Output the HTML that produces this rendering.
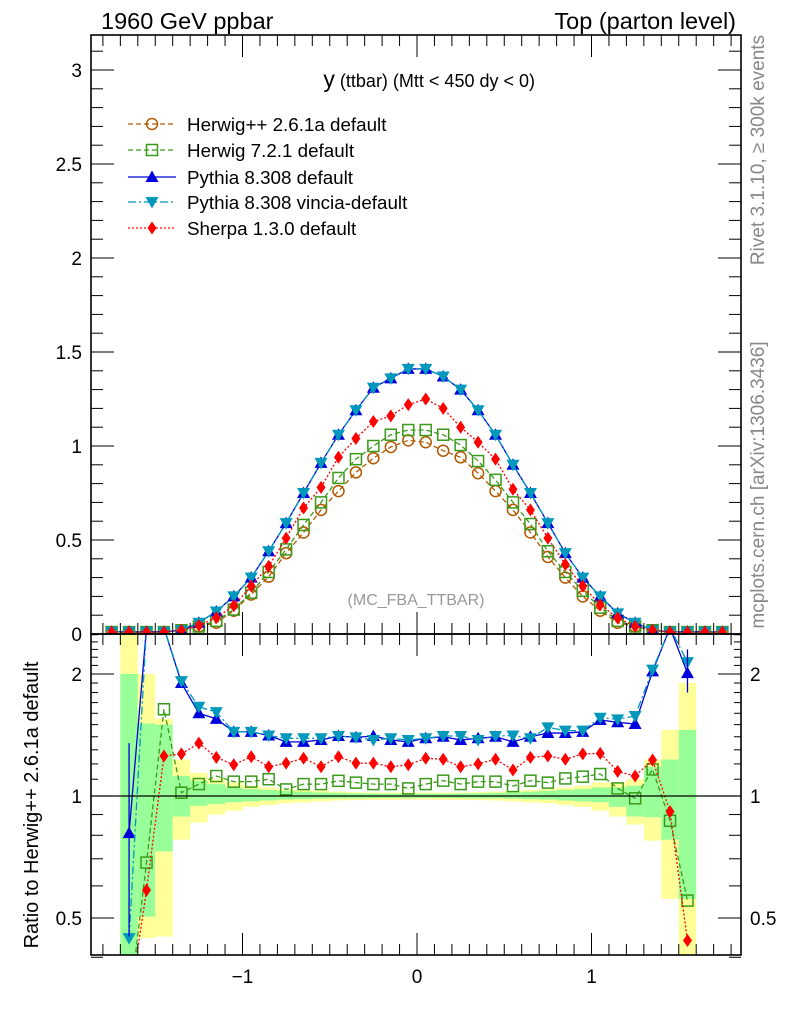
<!DOCTYPE html>
<html><head><meta charset="utf-8"><style>
html,body{margin:0;padding:0;background:#fff;}
svg{display:block;font-family:"Liberation Sans",Arial,sans-serif;}
</style></head><body>
<svg id="c" width="786" height="1024" viewBox="0 0 786 1024" xmlns="http://www.w3.org/2000/svg">
<g id="bands"></g>
<g id="series"></g>
<g id="axes"></g>
<text x="101" y="29" font-size="23.5">1960 GeV ppbar</text>
<text x="736" y="29" font-size="23.5" text-anchor="end">Top (parton level)</text>
<text x="535" y="87" font-size="18" text-anchor="end"><tspan font-size="23">y</tspan> (ttbar) (Mtt &lt; 450 dy &lt; 0)</text>
<text x="416" y="605" font-size="16" fill="#999" text-anchor="middle">(MC_FBA_TTBAR)</text>
<text transform="translate(764,150) rotate(-90)" font-size="19" fill="#888" text-anchor="middle">Rivet 3.1.10, ≥ 300k events</text>
<text transform="translate(764,485) rotate(-90)" font-size="19" fill="#888" text-anchor="middle">mcplots.cern.ch [arXiv:1306.3436]</text>
<text transform="translate(38,805) rotate(-90)" font-size="20" text-anchor="middle">Ratio to Herwig++ 2.6.1a default</text>
<g id="legend"></g>
</svg>
<script>
const xCenters=[-1.75,-1.65,-1.55,-1.45,-1.35,-1.25,-1.15,-1.05,-0.95,-0.85,-0.75,-0.65,-0.55,-0.45,-0.35,-0.25,-0.15,-0.05,0.05,0.15,0.25,0.35,0.45,0.55,0.65,0.75,0.85,0.95,1.05,1.15,1.25,1.35,1.45,1.55,1.65,1.75];
const herwigpp=[0.01,0.01,0.01,0.01,0.02,0.04,0.06,0.124,0.21,0.305,0.43,0.54,0.66,0.76,0.86,0.935,0.995,1.03,1.02,0.975,0.94,0.855,0.76,0.66,0.54,0.41,0.30,0.20,0.124,0.06,0.04,0.02,0.01,0.01,0.01,0.01];
const herwig7=[0.01,0.01,0.01,0.01,0.02,0.04,0.07,0.13,0.22,0.33,0.45,0.58,0.70,0.83,0.93,1.0,1.06,1.085,1.085,1.06,1.005,0.92,0.82,0.70,0.585,0.44,0.33,0.23,0.14,0.07,0.04,0.02,0.01,0.01,0.01,0.01];
const pythia=[0.012,0.012,0.012,0.012,0.02,0.06,0.12,0.20,0.30,0.44,0.59,0.75,0.91,1.06,1.19,1.31,1.36,1.41,1.41,1.37,1.30,1.19,1.06,0.90,0.75,0.59,0.43,0.30,0.20,0.11,0.06,0.02,0.012,0.012,0.012,0.012];
const vincia=[0.012,0.012,0.012,0.012,0.02,0.06,0.12,0.20,0.30,0.44,0.59,0.75,0.91,1.06,1.19,1.31,1.36,1.41,1.41,1.37,1.30,1.19,1.06,0.90,0.75,0.59,0.43,0.30,0.20,0.11,0.06,0.02,0.012,0.012,0.012,0.012];
const sherpa=[0.01,0.01,0.01,0.01,0.02,0.045,0.087,0.15,0.255,0.36,0.51,0.67,0.78,0.94,1.04,1.13,1.16,1.22,1.25,1.20,1.10,1.02,0.93,0.77,0.66,0.51,0.37,0.255,0.155,0.085,0.04,0.02,0.01,0.01,0.01,0.01];
const rX=[-1.65,-1.55,-1.45,-1.35,-1.25,-1.15,-1.05,-0.95,-0.85,-0.75,-0.65,-0.55,-0.45,-0.35,-0.25,-0.15,-0.05,0.05,0.15,0.25,0.35,0.45,0.55,0.65,0.75,0.85,0.95,1.05,1.15,1.25,1.35,1.45,1.55];
const rHerwig7=[0.3,0.685,1.637,1.019,1.07,1.12,1.085,1.085,1.10,1.038,1.07,1.07,1.09,1.079,1.07,1.07,1.044,1.07,1.091,1.07,1.085,1.085,1.058,1.091,1.079,1.105,1.116,1.133,1.044,0.987,1.163,0.869,0.552];
const rPythia=[0.81,2.6,2.6,1.90,1.60,1.55,1.44,1.44,1.41,1.36,1.36,1.375,1.406,1.395,1.406,1.375,1.36,1.388,1.40,1.375,1.388,1.40,1.36,1.40,1.43,1.43,1.44,1.54,1.52,1.505,2.03,2.6,2.01];
const rVincia=[0.446,2.6,2.6,1.92,1.66,1.61,1.44,1.44,1.41,1.388,1.388,1.388,1.406,1.395,1.375,1.388,1.375,1.388,1.406,1.406,1.375,1.406,1.41,1.388,1.477,1.45,1.45,1.56,1.546,1.575,2.05,2.6,2.14];
const rSherpa=[0.3,0.586,1.255,1.27,1.35,1.245,1.194,1.25,1.181,1.205,1.239,1.181,1.25,1.205,1.205,1.181,1.194,1.239,1.232,1.181,1.20,1.232,1.159,1.245,1.255,1.232,1.27,1.274,1.15,1.12,1.227,0.915,0.44];
const bandYLo=[0.4,0.446,0.45,0.78,0.86,0.90,0.92,0.94,0.95,0.96,0.965,0.97,0.975,0.977,0.978,0.979,0.98,0.98,0.979,0.978,0.977,0.975,0.97,0.965,0.96,0.95,0.94,0.92,0.89,0.85,0.776,0.557,0.4];
const bandYHi=[2.6,2.0,1.55,1.23,1.14,1.10,1.08,1.06,1.05,1.04,1.035,1.03,1.025,1.022,1.02,1.02,1.02,1.02,1.02,1.02,1.022,1.025,1.03,1.035,1.04,1.05,1.06,1.08,1.08,1.10,1.23,1.455,1.9];
const bandGLo=[0.4,0.504,0.73,0.89,0.946,0.955,0.965,0.97,0.975,0.98,0.982,0.985,0.987,0.988,0.989,0.99,0.99,0.99,0.99,0.989,0.988,0.987,0.985,0.982,0.98,0.975,0.97,0.965,0.94,0.89,0.886,0.78,0.557];
const bandGHi=[2.0,1.51,1.5,1.12,1.09,1.07,1.05,1.04,1.035,1.03,1.025,1.02,1.018,1.016,1.015,1.014,1.014,1.014,1.014,1.015,1.016,1.018,1.02,1.025,1.03,1.035,1.04,1.05,1.05,1.06,1.18,1.23,1.455];
const mainTicks=[0,0.5,1,1.5,2,2.5,3];
const mainTickLabels=["0","0.5","1","1.5","2","2.5","3"];
const ratioTicks=[0.5,1,2];
const ratioTickLabels=["0.5","1","2"];
const xTicks=[-1,0,1];
const xTickLabels=["\u22121","0","1"];

const NS="http://www.w3.org/2000/svg";
const L=91,R=741,T=35,MB=634,RB=955;
const X=v=>417+174.5*v;
const Ym=v=>634-188*v;
const Yr=r=>Math.min(RB+2,Math.max(MB-2,796-122*Math.log2(r)));
function el(tag,attrs,parent){const e=document.createElementNS(NS,tag);for(const k in attrs)e.setAttribute(k,attrs[k]);parent.appendChild(e);return e;}
const bands=document.getElementById('bands'),ser=document.getElementById('series'),ax=document.getElementById('axes'),leg=document.getElementById('legend');
const defs=el('defs',{},document.getElementById('c'));
const cm=el('clipPath',{id:'cm'},defs);el('rect',{x:L,y:T,width:R-L,height:MB-T},cm);
const cr=el('clipPath',{id:'cr'},defs);el('rect',{x:L,y:MB,width:R-L,height:RB-MB},cr);
bands.setAttribute('clip-path','url(#cr)');
rX.forEach((x,i)=>{
  const x0=X(x-0.05),x1=X(x+0.05);
  const y=el('rect',{x:x0,y:Yr(bandYHi[i]),width:x1-x0,height:Yr(bandYLo[i])-Yr(bandYHi[i]),fill:'#ffff99'},bands);
  
  
  const g=el('rect',{x:x0,y:Yr(bandGHi[i]),width:x1-x0,height:Yr(bandGLo[i])-Yr(bandGHi[i]),fill:'#99ff99'},bands);
  
  
});
const ul=el('line',{x1:L,x2:R,y1:796,y2:796,stroke:'#000','stroke-width':1.2},ax);


function marker(type,cx,cy,color,g){
  let m;
  if(type==='circle')m=el('circle',{cx,cy,r:5.5,fill:'none',stroke:color,'stroke-width':1.5},g);
  else if(type==='square')m=el('rect',{x:cx-5.5,y:cy-5.5,width:11,height:11,fill:'none',stroke:color,'stroke-width':1.5},g);
  else if(type==='up')m=el('polygon',{points:`${cx},${cy-6.5} ${cx-6.5},${cy+5} ${cx+6.5},${cy+5}`,fill:color},g);
  else if(type==='down')m=el('polygon',{points:`${cx},${cy+6.5} ${cx-6.5},${cy-5} ${cx+6.5},${cy-5}`,fill:color},g);
  else m=el('polygon',{points:`${cx},${cy-6.5} ${cx-4.5},${cy} ${cx},${cy+6.5} ${cx+4.5},${cy}`,fill:color},g);
  return m;
}
const defsSeries=[
 {name:'herwigpp',main:herwigpp,ratio:null,color:'#b35900',dash:'5,3',type:'circle',label:'Herwig++ 2.6.1a default'},
 {name:'herwig7',main:herwig7,ratio:rHerwig7,color:'#3a9a1a',dash:'5,3',type:'square',label:'Herwig 7.2.1 default'},
 {name:'pythia',main:pythia,ratio:rPythia,color:'#0000dd',dash:'',type:'up',label:'Pythia 8.308 default'},
 {name:'vincia',main:vincia,ratio:rVincia,color:'#0099bb',dash:'8,3,2,3',type:'down',label:'Pythia 8.308 vincia-default'},
 {name:'sherpa',main:sherpa,ratio:rSherpa,color:'#ff0000',dash:'2,2',type:'diamond',label:'Sherpa 1.3.0 default'}
];
defsSeries.forEach((s,si)=>{
  const gm=el('g',{'clip-path':'url(#cm)'},ser);
  
  
  const pts=xCenters.map((x,i)=>X(x)+','+Ym(s.main[i])).join(' ');
  el('polyline',{points:pts,fill:'none',stroke:s.color,'stroke-width':1.3,'stroke-dasharray':s.dash},gm);
  xCenters.forEach((x,i)=>{const m=marker(s.type,X(x),Ym(s.main[i]),s.color,gm);
    
    });
  const gr=el('g',{'clip-path':'url(#cr)'},ser);
  
  
  if(s.ratio){
    const rp=rX.map((x,i)=>X(x)+','+(796-122*Math.log2(s.ratio[i]))).join(' ');
    el('polyline',{points:rp,fill:'none',stroke:s.color,'stroke-width':1.3,'stroke-dasharray':s.dash},gr);
    rX.forEach((x,i)=>{const yy=796-122*Math.log2(s.ratio[i]);if(yy<MB||yy>RB)return;
      const m=marker(s.type,X(x),yy,s.color,gr);
      
      });
  }
  const ly=[124,150,177,202,228][si];
  const lg=el('g',{},leg);
  
  
  el('line',{x1:128,x2:176,y1:ly,y2:ly,stroke:s.color,'stroke-width':1.3,'stroke-dasharray':s.dash},lg);
  marker(s.type,152,ly,s.color,lg);
  const t=el('text',{x:187,y:ly+7,'font-size':18.8},lg);t.textContent=s.label;
});
[[-1.65,1.35,0.45],[1.55,2.3,1.8]].forEach(e=>{const l=el('line',{x1:X(e[0]),x2:X(e[0]),y1:796-122*Math.log2(e[1]),y2:796-122*Math.log2(e[2]),stroke:'#0000dd','stroke-width':1.3},ser);
 
 });
[[T,MB],[MB,RB]].forEach(([a,b])=>{const f=el('rect',{x:L,y:a,width:R-L,height:b-a,fill:'none',stroke:'#000','stroke-width':1.6},ax);
 
 });
for(let k=-18;k<=18;k++){const x=X(k/10);if(x<L||x>R)continue;const maj=k%10===0;const len=maj?22:11;
  el('line',{x1:x,x2:x,y1:T,y2:T+len,stroke:'#000','stroke-width':1},ax);
  el('line',{x1:x,x2:x,y1:MB,y2:MB-len,stroke:'#000','stroke-width':1},ax);
  el('line',{x1:x,x2:x,y1:MB,y2:MB+len,stroke:'#000','stroke-width':1},ax);
  el('line',{x1:x,x2:x,y1:RB,y2:RB-len,stroke:'#000','stroke-width':1},ax);}
xTicks.forEach((v,i)=>{const t=el('text',{x:X(v),y:983,'font-size':19,'text-anchor':'middle'},ax);t.textContent=xTickLabels[i];
 
 });
for(let k=0;k<=31;k++){const y=Ym(k/10);const maj=k%5===0;const len=maj?23:12;
  el('line',{x1:L,x2:L+len,y1:y,y2:y,stroke:'#000','stroke-width':1},ax);
  el('line',{x1:R,x2:R-len,y1:y,y2:y,stroke:'#000','stroke-width':1},ax);}
mainTicks.forEach((v,i)=>{const t=el('text',{x:82,y:Ym(v)+7,'font-size':19,'text-anchor':'end'},ax);t.textContent=mainTickLabels[i];
 
 });
[0.4,0.5,0.6,0.7,0.8,0.9,1,2].forEach(v=>{const y=796-122*Math.log2(v);const maj=(v===0.5||v===1||v===2);const len=maj?23:12;
  el('line',{x1:L,x2:L+len,y1:y,y2:y,stroke:'#000','stroke-width':1},ax);
  el('line',{x1:R,x2:R-len,y1:y,y2:y,stroke:'#000','stroke-width':1},ax);});
for(let k=11;k<=25;k++){if(k===20)continue;const y=796-122*Math.log2(k/10);if(y<MB)continue;
  el('line',{x1:L,x2:L+7,y1:y,y2:y,stroke:'#000','stroke-width':1},ax);
  el('line',{x1:R,x2:R-7,y1:y,y2:y,stroke:'#000','stroke-width':1},ax);}
ratioTicks.forEach((v,i)=>{const y=796-122*Math.log2(v)+7;
  const t=el('text',{x:82,y,'font-size':19,'text-anchor':'end'},ax);t.textContent=ratioTickLabels[i];
  
  
  const t2=el('text',{x:750,y,'font-size':19},ax);t2.textContent=ratioTickLabels[i];
  
  });
</script>
</body></html>
